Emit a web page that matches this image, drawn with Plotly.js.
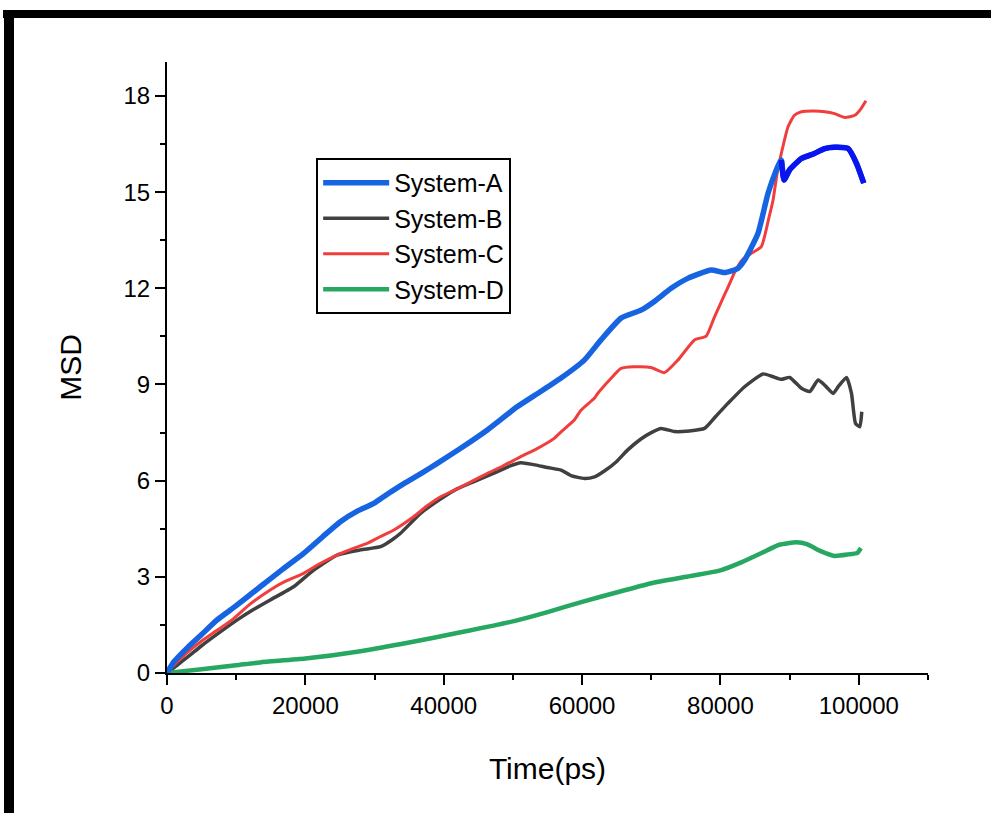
<!DOCTYPE html>
<html>
<head>
<meta charset="utf-8">
<script src="https://cdn.plot.ly/plotly-3.0.1.min.js"></script>
<style>
  html, body { margin: 0; padding: 0; background: #fff; }
  #wrap { position: relative; width: 991px; height: 813px; overflow: hidden; }
  #chart { position: absolute; left: 0; top: 0; width: 991px; height: 813px; }
  .bar { position: absolute; background: #000; }
</style>
</head>
<body>
<div id="wrap">
  <div id="chart"></div>
  <div class="bar" style="left:3px; top:10px; width:988px; height:8px;"></div>
  <div class="bar" style="left:4px; top:10px; width:10px; height:803px;"></div>
</div>
<script>
// ---- data ----
const seriesNames = ["System-A", "System-B", "System-C", "System-D"];

const timeA = [0, 1000, 3000, 5000, 7200, 10000, 13470, 16500, 19750, 22500, 25060, 27500, 29890, 32000, 34240, 36700, 39070, 42450, 46310, 50660, 53800, 56950, 60320, 62730, 65630, 68520, 70500, 72870, 75280, 78660, 80590, 82520, 83490, 85420, 86870, 88070, 88500, 88800, 89190, 90000, 91700, 93500, 95080, 96500, 98460, 99660, 100720];
const msdA  = [0, 0.35, 0.8, 1.2, 1.65, 2.1, 2.69, 3.2, 3.73, 4.25, 4.72, 5.05, 5.29, 5.6, 5.91, 6.22, 6.54, 7.01, 7.58, 8.31, 8.75, 9.2, 9.76, 10.39, 11.07, 11.32, 11.6, 12.0, 12.31, 12.57, 12.49, 12.62, 12.88, 13.71, 14.96, 15.69, 15.9, 16.0, 15.38, 15.7, 16.05, 16.2, 16.36, 16.4, 16.36, 15.9, 15.28];

const timeB = [0, 1500, 3000, 5000, 7500, 10100, 12500, 14920, 18300, 21200, 24580, 27960, 30860, 32500, 33760, 36650, 40030, 42000, 44380, 47770, 49500, 51140, 53000, 55010, 56950, 58500, 60320, 61800, 63220, 65000, 66600, 68500, 70000, 71420, 73350, 75500, 77700, 79300, 81080, 83490, 86150, 87500, 88800, 90010, 91700, 92910, 94120, 95200, 96290, 97020, 98220, 98940, 99520, 100140, 100430];
const msdB  = [0, 0.25, 0.5, 0.85, 1.25, 1.65, 1.98, 2.28, 2.69, 3.21, 3.68, 3.84, 3.94, 4.15, 4.36, 4.98, 5.5, 5.75, 5.97, 6.28, 6.45, 6.56, 6.5, 6.41, 6.33, 6.15, 6.07, 6.12, 6.3, 6.6, 6.96, 7.3, 7.5, 7.63, 7.53, 7.55, 7.63, 8.0, 8.41, 8.93, 9.33, 9.25, 9.16, 9.22, 8.88, 8.78, 9.14, 8.95, 8.72, 8.93, 9.22, 8.72, 7.79, 7.68, 8.15];

const timeC = [0, 1500, 3000, 5000, 7000, 9370, 12000, 14920, 17000, 19750, 22000, 24580, 26500, 28920, 30800, 32790, 35680, 37500, 39550, 41500, 43420, 46310, 48500, 51140, 53500, 55970, 57000, 58870, 59840, 61770, 62250, 64000, 65630, 67500, 69970, 71900, 73840, 76250, 77940, 79140, 80590, 81560, 82040, 83200, 84460, 85910, 87000, 87600, 88200, 88800, 89770, 90700, 91700, 93500, 95080, 96500, 97980, 99430, 100300, 101030];
const msdC  = [0, 0.35, 0.65, 1.0, 1.3, 1.65, 2.15, 2.59, 2.85, 3.11, 3.4, 3.68, 3.85, 4.04, 4.25, 4.46, 4.88, 5.2, 5.5, 5.7, 5.91, 6.23, 6.45, 6.75, 7.0, 7.32, 7.53, 7.89, 8.2, 8.57, 8.72, 9.15, 9.5, 9.55, 9.53, 9.37, 9.76, 10.39, 10.51, 11.11, 11.8, 12.26, 12.5, 12.9, 13.09, 13.3, 14.2, 14.75, 15.6, 16.21, 17.04, 17.4, 17.51, 17.53, 17.51, 17.45, 17.33, 17.4, 17.6, 17.85];

const timeD = [0, 5000, 10000, 13470, 20000, 27960, 35000, 42450, 50170, 55000, 60000, 65630, 70000, 75000, 80000, 83000, 86000, 88500, 91000, 92500, 94500, 96500, 98500, 99800, 100300];
const msdD  = [0, 0.12, 0.24, 0.33, 0.45, 0.68, 0.95, 1.27, 1.62, 1.9, 2.22, 2.55, 2.8, 3.0, 3.2, 3.45, 3.75, 4.0, 4.08, 4.02, 3.8, 3.65, 3.7, 3.75, 3.9];

const xTickVals = [0, 20000, 40000, 60000, 80000, 100000];
const yTickVals = [0, 3, 6, 9, 12, 15, 18];

// ---- styles ----
const colors = ["#1764e2", "#404040", "#f23d3d", "#27a862"];
const widths = [5.5, 3.5, 3, 4.5];
const tailColor = "#0a14ee";
const FONT = "'Liberation Sans', Arial, sans-serif";

// after the spike the blue curve is drawn in a deeper blue
const tailStart = timeA.indexOf(88800);
const tailX = timeA.slice(tailStart);
const tailY = msdA.slice(tailStart);

function lineStyle(c, w) { return {color: c, width: w, shape: "spline", smoothing: 0.5}; }

const traceA = {x: timeA, y: msdA, name: seriesNames[0], mode: "lines", line: lineStyle(colors[0], widths[0]), legendrank: 1};
const traceB = {x: timeB, y: msdB, name: seriesNames[1], mode: "lines", line: lineStyle(colors[1], widths[1]), legendrank: 2};
const traceC = {x: timeC, y: msdC, name: seriesNames[2], mode: "lines", line: lineStyle(colors[2], widths[2]), legendrank: 3};
const traceD = {x: timeD, y: msdD, name: seriesNames[3], mode: "lines", line: lineStyle(colors[3], widths[3]), legendrank: 4};
const traceTail = {x: tailX, y: tailY, name: "tail", mode: "lines", showlegend: false, line: lineStyle(tailColor, widths[0])};

const layout = {
  width: 991, height: 813,
  paper_bgcolor: "rgba(0,0,0,0)", plot_bgcolor: "rgba(0,0,0,0)",
  margin: {l: 167, r: 63, t: 62, b: 140},
  font: {family: FONT, color: "#000", size: 24},
  showlegend: true,
  legend: {
    x: 0.196, y: 0.843, xanchor: "left", yanchor: "top",
    bgcolor: "#fff", bordercolor: "#000", borderwidth: 2,
    font: {family: FONT, size: 25, color: "#000"},
    traceorder: "normal", tracegroupgap: 0, itemwidth: 66
  },
  xaxis: {
    range: [0, 110000], tickvals: xTickVals, tickformat: "d",
    showgrid: false, zeroline: false, showline: true, linecolor: "#000", linewidth: 2,
    ticks: "outside", ticklen: 10, tickwidth: 2, tickcolor: "#000",
    minor: {dtick: 10000, tick0: 0, ticks: "outside", ticklen: 5, tickwidth: 2, tickcolor: "#000", showgrid: false},
    tickfont: {family: FONT, size: 24, color: "#000"},
    title: {text: "Time(ps)", font: {family: FONT, size: 30, color: "#000"}, standoff: 40},
    automargin: false
  },
  yaxis: {
    range: [0, 19.06], tickvals: yTickVals,
    showgrid: false, zeroline: false, showline: true, linecolor: "#000", linewidth: 2,
    ticks: "outside", ticklen: 10, tickwidth: 2, tickcolor: "#000",
    minor: {dtick: 1.5, tick0: 0, ticks: "outside", ticklen: 5, tickwidth: 2, tickcolor: "#000", showgrid: false},
    tickfont: {family: FONT, size: 24, color: "#000"},
    title: {text: "MSD", font: {family: FONT, size: 30, color: "#000"}, standoff: 33},
    automargin: false
  }
};

Plotly.newPlot("chart", [traceB, traceC, traceD, traceA, traceTail], layout, {displayModeBar: false, staticPlot: true});
</script>
</body>
</html>
